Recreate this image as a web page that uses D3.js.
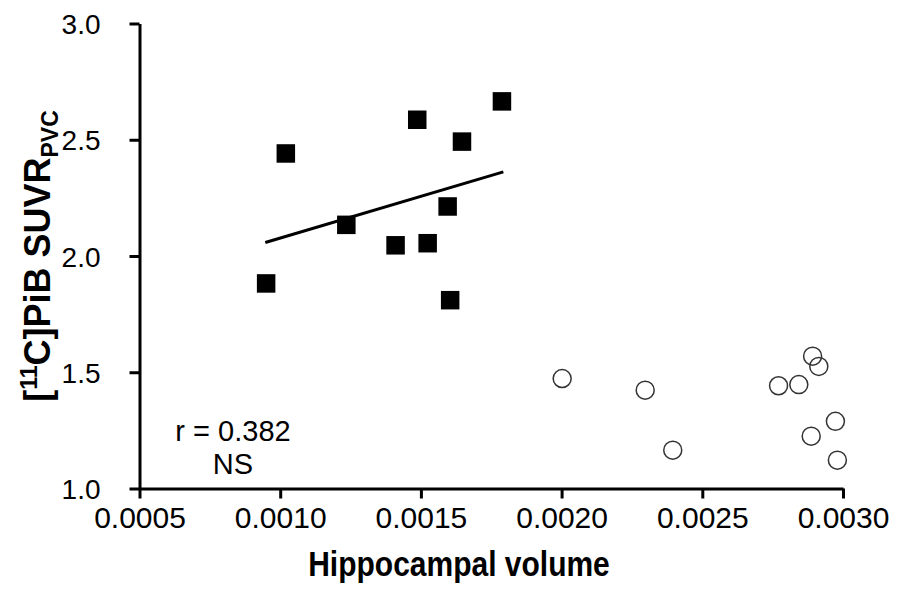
<!DOCTYPE html>
<html>
<head>
<meta charset="utf-8">
<script src="https://cdn.jsdelivr.net/npm/d3@7"></script>
<style>
  body { margin: 0; background: #fff; }
  text { font-family: Arial, "Liberation Sans", sans-serif; fill: #000; }
</style>
</head>
<body>
<div id="chart"></div>
<script>
const width = 900;
const height = 597;

// hippocampal volume vs PiB SUVR, two groups
const pibPosX = [0.00095, 0.00102, 0.001235, 0.00141, 0.001487, 0.001524, 0.001595, 0.001604, 0.001646, 0.001788];
const pibPosY = [1.882, 2.441, 2.134, 2.046, 2.586, 2.055, 2.213, 1.810, 2.492, 2.665];

const pibNegX = [0.002002, 0.002297, 0.002395, 0.002771, 0.002843, 0.002892, 0.002914, 0.002973, 0.002887, 0.00298];
const pibNegY = [1.473, 1.423, 1.165, 1.442, 1.447, 1.569, 1.525, 1.289, 1.225, 1.122];

// regression line (PiB+ group), end points
const fitX = [0.000947, 0.001793];
const fitY = [2.058, 2.362];

const xTicks = [0.0005, 0.0010, 0.0015, 0.0020, 0.0025, 0.0030];
const yTicks = [1.0, 1.5, 2.0, 2.5, 3.0];

const svg = d3.select("#chart").append("svg")
  .attr("width", width).attr("height", height);

const x = d3.scaleLinear().domain([0.0005, 0.0030]).range([139.5, 843]);
const y = d3.scaleLinear().domain([1.0, 3.0]).range([488.5, 23.5]);

// axes
const xAxis = svg.append("g")
  .attr("transform", `translate(0, ${y(1.0)})`)
  .call(d3.axisBottom(x).tickValues(xTicks).tickSize(10).tickSizeOuter(0).tickFormat(d3.format(".4f")));

const yAxis = svg.append("g")
  .attr("transform", `translate(${x(0.0005)}, 0)`)
  .call(d3.axisLeft(y).tickValues(yTicks).tickSize(10).tickSizeOuter(0).tickFormat(d3.format(".1f")));

[xAxis, yAxis].forEach(a => {
  a.select(".domain").attr("stroke", "#000").attr("stroke-width", 3);
  a.selectAll(".tick line").attr("stroke", "#000").attr("stroke-width", 3);
  a.attr("font-family", null).attr("font-size", null);
});
xAxis.selectAll(".tick text").attr("font-size", 30).attr("y", 18).attr("dy", "0.71em");
yAxis.selectAll(".tick text").attr("font-size", 28).attr("x", -39).attr("dy", "0.36em");

// regression line
svg.append("line")
  .attr("x1", x(fitX[0])).attr("y1", y(fitY[0]))
  .attr("x2", x(fitX[1])).attr("y2", y(fitY[1]))
  .attr("stroke", "#000").attr("stroke-width", 3);

// filled squares
const sq = 18.5;
svg.selectAll(".sq")
  .data(d3.zip(pibPosX, pibPosY))
  .join("rect")
    .attr("x", d => x(d[0]) - sq / 2)
    .attr("y", d => y(d[1]) - sq / 2)
    .attr("width", sq).attr("height", sq)
    .attr("fill", "#000");

// open circles
svg.selectAll(".circ")
  .data(d3.zip(pibNegX, pibNegY))
  .join("circle")
    .attr("cx", d => x(d[0]))
    .attr("cy", d => y(d[1]))
    .attr("r", 9)
    .attr("fill", "none")
    .attr("stroke", "#333")
    .attr("stroke-width", 1.5);

// stats annotation
svg.append("text").attr("x", 233).attr("y", 441).attr("text-anchor", "middle")
  .attr("font-size", 29).text("r = 0.382");
svg.append("text").attr("x", 233).attr("y", 474).attr("text-anchor", "middle")
  .attr("font-size", 29).text("NS");

// axis titles
svg.append("text")
  .attr("transform", "translate(459, 576) scale(1, 1.15)")
  .attr("text-anchor", "middle")
  .attr("font-size", 30).attr("font-weight", "bold")
  .text("Hippocampal volume");

const yTitle = svg.append("text")
  .attr("transform", `translate(50, ${y(2.0)}) rotate(-90)`)
  .attr("text-anchor", "middle")
  .attr("font-size", 36).attr("font-weight", "bold");
yTitle.append("tspan").text("[");
yTitle.append("tspan").attr("font-size", 23).attr("dy", -13).text("11");
yTitle.append("tspan").attr("dy", 13).text("C]PiB SUVR");
yTitle.append("tspan").attr("font-size", 23).attr("dy", 8).text("PVC");
</script>
</body>
</html>
